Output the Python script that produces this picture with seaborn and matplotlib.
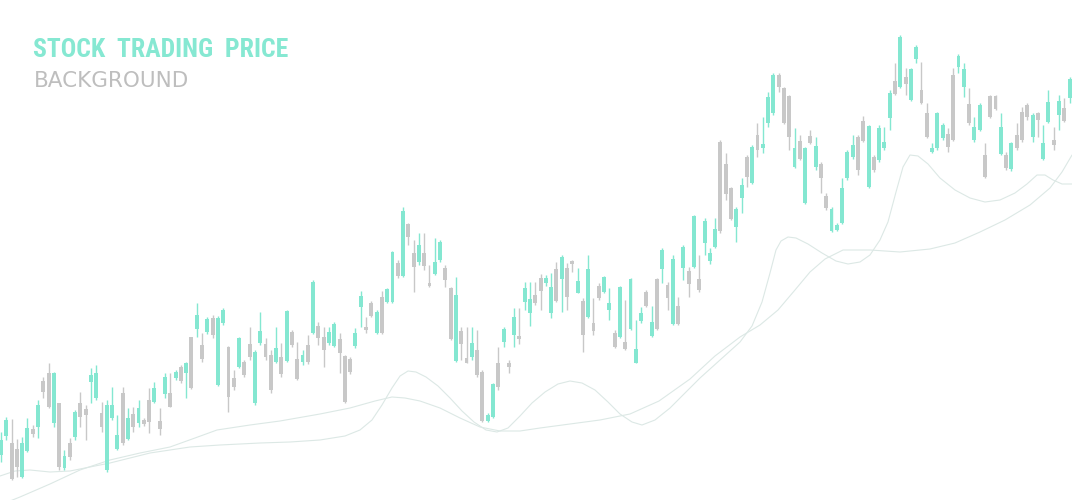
import matplotlib
matplotlib.use("Agg")
import matplotlib.pyplot as plt
from matplotlib import font_manager
import seaborn as sns
import numpy as np

# ---------------- data (price units, higher = up) ----------------
colors_code = list(
    "GGRRGGRGRRGRGRGRRGGRGGGRGRGRRGRGRGRGRGRGRGGRRGRRGGRRGRGRRGRGRRGGRRRGGRRGRGGRGRRGRRGGRRGRRGRRGGRGRGRGGRRGGRGRRGRGRRGGRGRGGGRGRGRGRGRGRGGGRRRGGRGRGGGRRRGRGRGRRGGGGGRRGRGGGRGRGGRRGGGRRGGRGGRRRGRGRRRGRGGRGRGRGRG"
)

body_top = [440,420,443,449,443,428,429,405,381,373,373,403,456,443,412,403,409,375,373,413,
            405,405,435,393,418,414,408,420,400,388,421,377,393,372,367,363,337,315,345,319,
            318,318,310,347,378,338,362,344,352,331,344,355,348,357,311,332,359,355,345,282,
            326,337,332,324,339,356,359,333,296,327,303,312,297,289,252,263,211,224,253,245,
            253,283,262,242,268,288,295,331,358,343,350,372,415,384,363,329,363,317,336,288,
            299,295,278,278,287,269,257,268,261,281,301,269,323,286,277,303,333,287,342,279,
            349,313,292,322,279,250,285,259,306,247,271,216,279,221,253,229,142,164,188,209,
            185,157,147,135,144,97,75,75,88,96,148,141,148,136,146,164,196,209,225,188,
            152,145,137,121,126,157,128,142,93,81,37,77,69,47,90,113,148,113,125,134,
            75,56,69,104,127,105,155,96,96,127,155,143,135,112,105,115,113,143,102,140,
            101,108,79]
body_bot = [455,436,479,467,477,451,434,427,392,407,423,467,468,457,437,417,415,382,398,427,
            470,418,449,443,439,427,423,424,422,402,429,394,407,378,381,373,388,329,359,332,
            335,385,323,397,387,367,375,357,403,343,357,390,362,374,361,345,379,362,362,333,
            338,350,343,346,353,402,372,346,307,330,316,333,333,302,302,276,276,237,267,262,
            266,286,274,260,280,339,361,344,363,357,375,421,421,417,387,342,367,335,339,302,
            313,303,291,283,313,301,279,297,264,293,335,317,331,298,292,310,347,337,349,329,
            363,321,306,336,329,269,298,324,324,268,284,267,290,243,261,247,231,194,219,227,
            198,177,183,150,148,123,113,87,123,137,167,159,203,143,167,178,208,231,230,223,
            178,157,170,141,187,170,160,148,118,94,87,84,100,59,103,137,152,148,138,147,
            140,67,87,123,140,130,177,117,109,154,168,169,148,140,117,137,120,159,122,145,
            115,121,98]
wick_top = [432,417,419,439,437,418,425,400,377,363,372,403,450,438,410,392,405,368,365,402,
            400,387,415,387,408,407,400,418,388,382,408,373,373,370,365,362,337,303,333,317,
            315,316,308,346,370,337,360,327,350,312,338,350,327,343,310,330,342,350,335,280,
            322,327,327,322,333,355,357,328,291,317,301,310,291,288,251,260,207,223,240,233,
            233,265,238,240,265,287,277,327,327,327,330,370,413,383,347,327,360,308,308,282,
            282,282,274,275,273,262,255,263,260,268,298,255,298,283,276,288,330,286,300,278,
            320,307,290,306,278,248,282,255,297,245,267,215,255,218,248,218,140,153,187,207,
            178,155,145,123,117,92,73,73,87,95,128,135,147,130,137,162,193,207,223,178,
            150,135,135,116,125,155,125,127,90,63,35,68,68,45,62,103,143,112,123,128,
            68,54,63,88,117,103,143,95,95,113,152,142,123,107,103,113,112,125,90,127,
            95,98,77]
wick_bot = [462,440,480,477,478,452,437,438,398,408,427,470,470,460,440,427,440,403,400,432,
            472,420,450,445,440,432,427,426,433,403,435,398,407,380,383,398,389,337,362,334,
            338,386,325,412,390,368,377,360,405,345,360,393,363,377,362,347,380,365,364,334,
            345,367,345,347,373,403,374,348,327,333,317,334,334,303,303,278,277,245,292,265,
            270,287,275,262,287,340,362,360,363,360,377,422,422,418,390,347,373,347,344,310,
            326,305,310,286,318,302,312,310,272,293,352,318,335,300,293,320,348,338,350,330,
            363,323,307,337,330,283,310,325,325,280,297,268,292,255,264,248,233,200,220,242,
            213,187,184,157,153,127,115,92,124,150,168,160,204,144,170,193,210,232,231,224,
            180,159,175,142,188,172,162,150,130,95,88,95,101,63,104,138,153,150,140,152,
            141,73,97,125,142,131,178,118,110,155,170,171,150,142,120,142,137,160,123,150,
            130,122,103]

H = 500
is_up = [c == "G" for c in colors_code]
opens = [H - (b if up else t) for t, b, up in zip(body_top, body_bot, is_up)]
closes = [H - (t if up else b) for t, b, up in zip(body_top, body_bot, is_up)]
highs = [H - v for v in wick_top]
lows = [H - v for v in wick_bot]

# fast and slow average curves (candle index, price)
fast_x = [-0.19, 2.65, 5.48, 9.26, 13.04, 16.82, 20.6, 24.39, 28.17, 31.95, 35.73, 41.4, 48.96,
          54.63, 60.3, 65.03, 67.86, 70.13, 72.02, 73.91, 75.43, 76.94, 78.45, 80.34, 82.61,
          84.88, 87.15, 89.41, 91.68, 93.76, 95.84, 98.11, 100.38, 102.84, 105.29, 107.56,
          109.83, 112.29, 114.74, 117.01, 119.28, 121.17, 123.63, 126.47, 129.3, 132.14,
          135.92, 139.7, 141.97, 143.86, 145.37, 146.5, 147.45, 148.77, 150.28, 152.55,
          155.2, 157.84, 160.11, 162.38, 164.27, 166.16, 167.67, 169.19, 170.51, 171.83,
          173.35, 175.24, 177.5, 180.34, 183.18, 186.01, 188.85, 191.68, 193.95, 195.84,
          197.35, 198.87, 200.57, 202.46]
fast_y = [24, 29, 30, 28, 29, 33, 37, 42, 47, 50, 53, 55, 57,
          58, 60, 64, 70, 80, 95, 112, 124, 129, 128, 123, 114,
          102, 89, 78, 70, 68, 72, 84, 97, 108, 116, 119,
          117, 110, 98, 86, 78, 75, 80, 92, 107, 122,
          140, 158, 174, 198, 227, 250, 259, 263, 262, 256,
          247, 239, 236, 238, 245, 260, 278, 308, 333, 345,
          344, 336, 322, 310, 302, 298, 300, 307, 316, 325,
          325, 320, 316, 316]
slow_x = [-0.19, 3.59, 9.26, 14.93, 20.6, 26.28, 31.95, 36.67, 40.83, 47.07, 52.74, 60.3,
          65.97, 70.7, 73.91, 76.37, 79.21, 82.99, 86.77, 90.55, 94.33, 98.11, 101.89,
          107.56, 113.23, 118.9, 124.39, 130.25, 134.97, 139.7, 143.48, 146.88, 150.09,
          152.93, 155.77, 159.17, 164.27, 169.94, 175.61, 180.34, 185.07, 189.79, 194.52,
          198.3, 200.57, 202.46]
slow_y = [-5, 3, 16, 30, 40, 47, 53, 62, 70, 75, 79, 86,
          92, 99, 103, 102, 99, 92, 82, 73, 69, 69, 72,
          76, 80, 86, 99, 121, 144, 163, 175, 190, 210,
          228, 241, 250, 250, 248, 251, 257, 268, 280, 295,
          312, 328, 345]

# ---------------- style ----------------
GREEN = "#84E7D1"
GRAY = "#C8C8C8"
LINE = "#DCE8E5"

sns.set_theme(style="white")
avail = {f.name for f in font_manager.fontManager.ttflist}
title_font = next((f for f in ["Roboto Condensed", "Liberation Sans Narrow", "Open Sans Condensed",
                               "DejaVu Sans"] if f in avail), "DejaVu Sans")
plt.rcParams["font.family"] = [title_font, "DejaVu Sans"]

fig = plt.figure(figsize=(10.72, 5.0), dpi=100)
ax = fig.add_axes([0, 0, 1, 1])
ax.set_facecolor("white")

step = 5.29
ax.set_xlim(-1 / step, (1072 - 1) / step)
ax.set_ylim(0, 500)

# average curves
sns.lineplot(x=fast_x, y=fast_y, ax=ax, color=LINE, lw=0.8, sort=False, estimator=None)
sns.lineplot(x=slow_x, y=slow_y, ax=ax, color=LINE, lw=0.8, sort=False, estimator=None)

# candles
idx = np.arange(len(opens))
cols = [GREEN if u else GRAY for u in is_up]
ax.vlines(idx, lows, highs, colors=cols, lw=1.0, zorder=3)
bottoms = np.minimum(opens, closes)
heights = np.maximum(np.abs(np.array(closes) - np.array(opens)), 2)
ax.bar(idx, heights, bottom=bottoms, width=0.74, color=cols, linewidth=0, zorder=4)

ax.set_axis_off()

fig.text(33 / 1072, 1 - 57 / 500, "STOCK  TRADING  PRICE", color="#86E8D2", fontsize=18.5,
         fontweight="bold", ha="left", va="baseline")
fig.text(34 / 1072, 1 - 87 / 500, "BACKGROUND", color="#BEBEBE", fontsize=15.5,
         fontweight="medium", family=["DejaVu Sans"], ha="left", va="baseline")

fig.savefig("out.png", dpi=100, facecolor="white")
